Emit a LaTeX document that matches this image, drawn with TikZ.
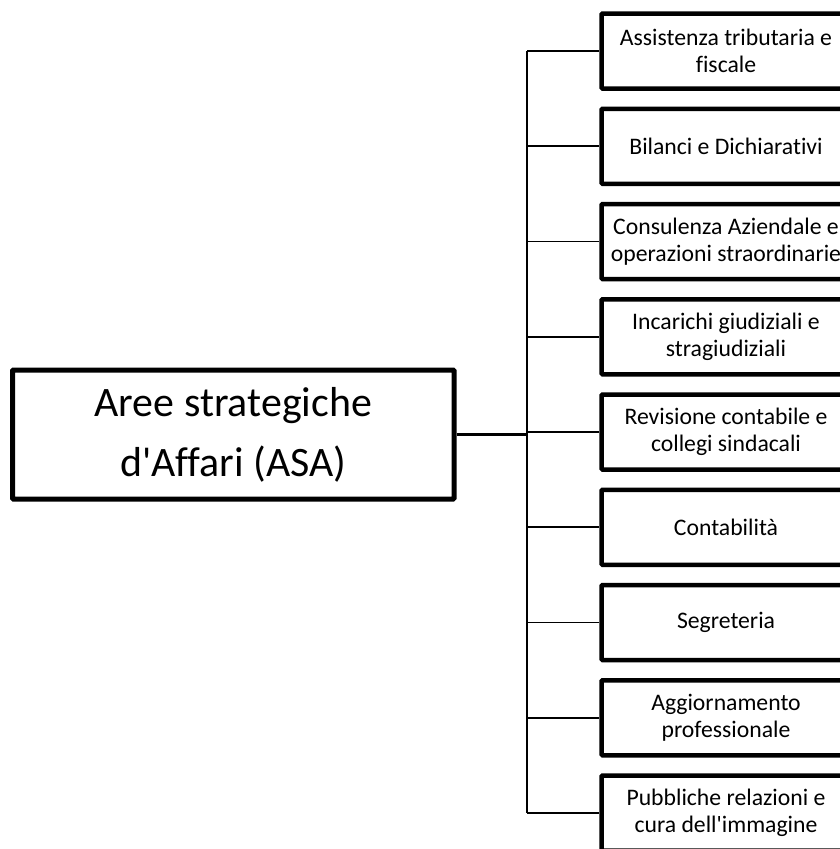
\documentclass[tikz,border=0pt]{standalone}
\usepackage{fontspec}
\setmainfont{Carlito}[Ligatures={NoCommon,NoRequired,NoContextual}]
\newcommand{\apos}{\textquotesingle}
\begin{document}
\begin{tikzpicture}[x=1pt,y=-1pt,
  rootbox/.style={draw=black, line width=5pt, rounded corners=1pt, fill=white,
    minimum width=441.5pt, minimum height=129pt, inner sep=0pt, align=center,
    font=\fontsize{41.9}{60}\selectfont},
  areabox/.style={draw=black, line width=4.5pt, rounded corners=1pt, fill=white,
    minimum width=249pt, minimum height=75pt, inner sep=0pt, align=center,
    font=\fontsize{23.7}{26.5}\selectfont},
  trunk/.style={draw=black, line width=3.2pt},
  bus/.style={draw=black, line width=2.5pt},
  branch/.style={draw=black, line width=1.8pt}]
\clip (0,0) rectangle (840,849);

% root node
\node[rootbox] (asa) at (233.25,434.5) {Aree strategiche\\d\apos Affari (ASA)};

% business areas
\node[areabox] (a1) at (726,51)     {Assistenza tributaria e\\fiscale};
\node[areabox] (a2) at (726,146.3)  {Bilanci e Dichiarativi};
\node[areabox] (a3) at (726,241.5)  {Consulenza Aziendale e\\operazioni straordinarie};
\node[areabox] (a4) at (726,336.8)  {Incarichi giudiziali e\\stragiudiziali};
\node[areabox] (a5) at (726,432)    {Revisione contabile e\\collegi sindacali};
\node[areabox] (a6) at (726,527.3)  {Contabilità};
\node[areabox] (a7) at (726,622.5)  {Segreteria};
\node[areabox] (a8) at (726,717.8)  {Aggiornamento\\professionale};
\node[areabox] (a9) at (726,813)    {Pubbliche relazioni e\\cura dell\apos immagine};

% vertical bus joining the root to every area
\coordinate (busx) at (527,0);
\draw[bus] (a1.west -| busx) -- (a9.west -| busx);
\draw[trunk] (asa.east) -- (asa.east -| busx);
\foreach \i in {1,...,9}
  \draw[branch] (a\i.west -| busx) -- (a\i.west);
\end{tikzpicture}
\end{document}
